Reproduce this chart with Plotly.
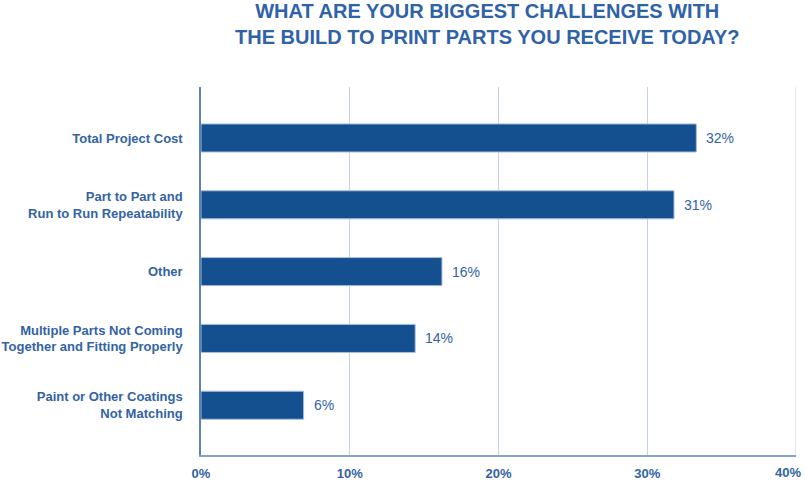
import plotly.graph_objects as go

categories = [
    "Total Project Cost",
    "Part to Part and<br>Run to Run Repeatability",
    "Other",
    "Multiple Parts Not Coming<br>Together and Fitting Properly",
    "Paint or Other Coatings<br>Not Matching",
]
values = [33.3, 31.8, 16.2, 14.4, 6.9]
value_labels = ["32%", "31%", "16%", "14%", "6%"]
x_tick_vals = [0, 10, 20, 30, 40]
x_tick_text = ["0%", "10%", "20%", "30%", "40%"]
title_text = "<b>WHAT ARE YOUR BIGGEST CHALLENGES WITH<br>THE BUILD TO PRINT PARTS YOU RECEIVE TODAY?</b>"

BAR = "#14508f"
TXT = "#3363a4"
FONT = "Liberation Sans, Arial, Helvetica, sans-serif"

fig = go.Figure()
fig.add_trace(go.Bar(
    x=values,
    y=categories,
    orientation="h",
    width=0.42,
    marker=dict(color=BAR, line=dict(color="#a8bfdd", width=1)),
    hoverinfo="skip",
))

for v, lab, cat in zip(values, value_labels, categories):
    fig.add_annotation(
        x=v, y=cat, xref="x", yref="y", text=lab, showarrow=False,
        xanchor="left", yanchor="middle", xshift=8,
        font=dict(family=FONT, size=14, color=TXT),
    )

# last x tick label (40%) kept inside the page edge, as in the reference
fig.add_annotation(
    x=x_tick_vals[-1], xref="x", y=0, yref="paper",
    text="<b>" + x_tick_text[-1] + "</b>", showarrow=False,
    xanchor="right", yanchor="top", xshift=7, yshift=-8,
    font=dict(family=FONT, size=13, color=TXT),
)

plot_top, plot_h = 87, 368
fig.add_annotation(
    text=title_text, showarrow=False,
    xref="paper", x=(487 - 201) / 595, xanchor="center",
    yref="paper", y=1 + (plot_top + 2) / plot_h, yanchor="top",
    align="center",
    font=dict(family=FONT, size=20, color="#2f62a6"),
)

fig.update_layout(
    width=805, height=485,
    margin=dict(l=201, r=9, t=87, b=30, autoexpand=False),
    paper_bgcolor="white", plot_bgcolor="white",
    showlegend=False,
    xaxis=dict(
        range=[0, 40],
        tickvals=x_tick_vals[:-1], ticktext=x_tick_text[:-1],
        showgrid=True, gridcolor="#c6d3e6", gridwidth=1,
        zeroline=False,
        showline=True, linecolor="#83a3cb", linewidth=2,
        ticks="", ticklabelstandoff=5,
        automargin=False,
        tickfont=dict(family=FONT, size=13, color=TXT, weight="bold"),
        fixedrange=True,
    ),
    yaxis=dict(
        type="category",
        categoryorder="array", categoryarray=categories,
        range=[4.745, -0.763],
        showgrid=False, zeroline=False,
        showline=True, linecolor="#5a82b8", linewidth=1.5,
        ticks="", ticklabelstandoff=14,
        automargin=False,
        tickfont=dict(family=FONT, size=13, color=TXT, weight="bold"),
        fixedrange=True,
    ),
    shapes=[dict(
        type="line", xref="x", yref="paper",
        x0=x_tick_vals[-1], x1=x_tick_vals[-1], y0=0, y1=1,
        line=dict(color="#c6d3e6", width=1), layer="below",
    )],
)

fig.write_html(
    "out.html",
    config={"displayModeBar": False},
    post_script="document.body.style.margin='0px';document.body.style.overflow='hidden';",
)
